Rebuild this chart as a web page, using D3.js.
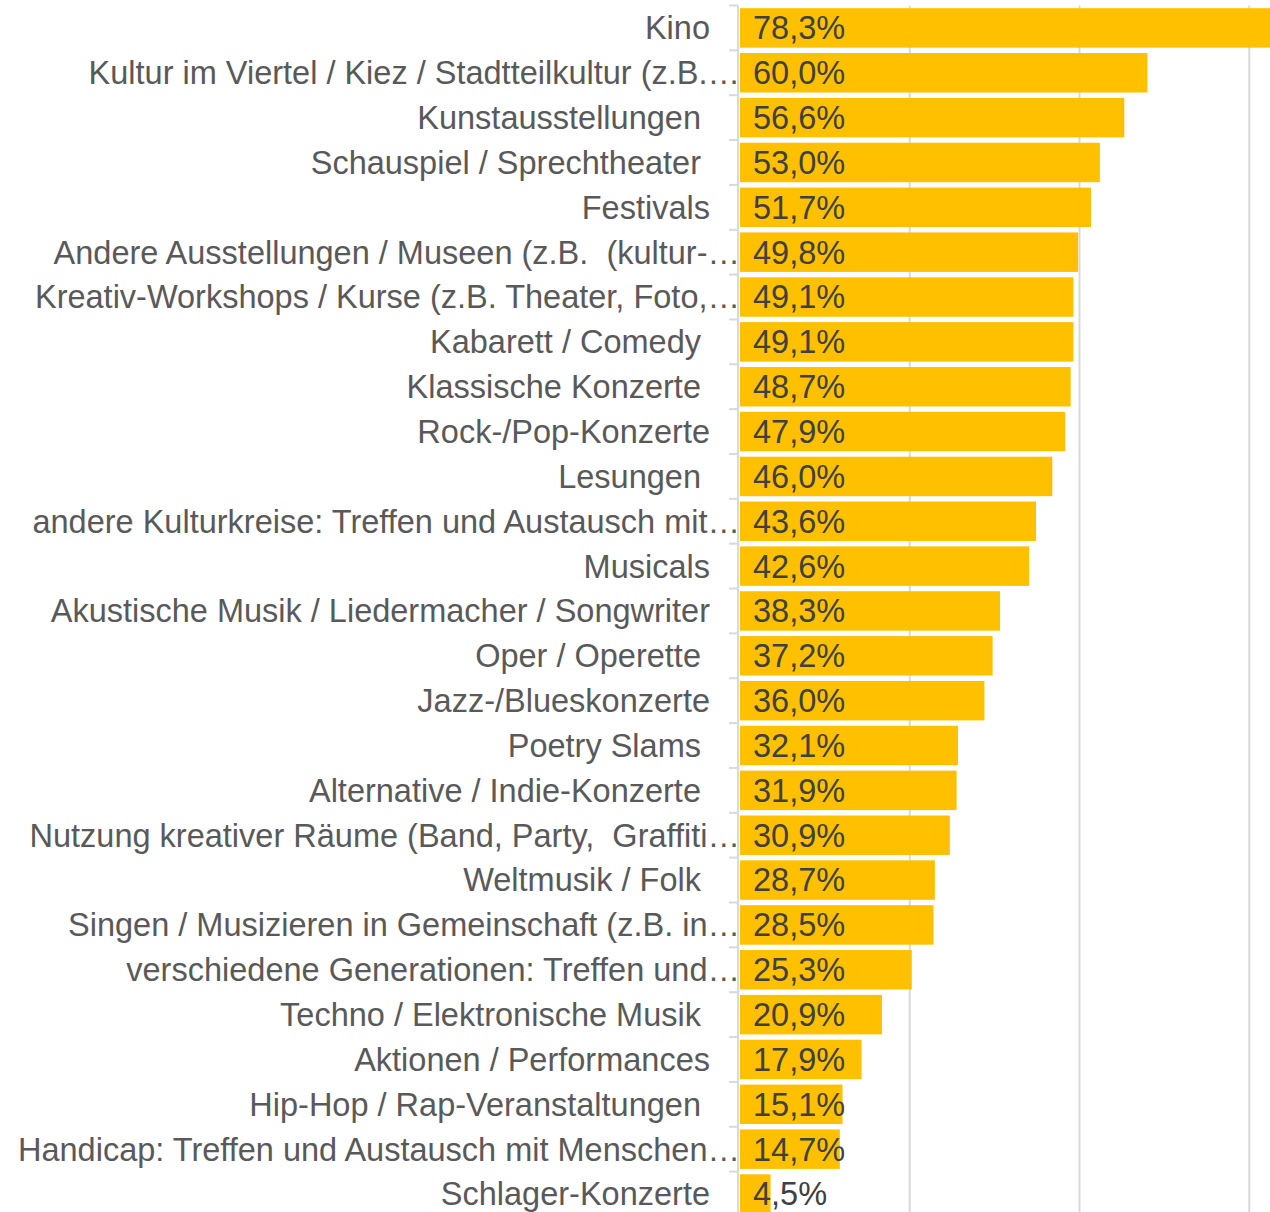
<!doctype html>
<html lang="de">
<head>
	<meta charset="UTF-8">
	<title>Kulturangebote – Interesse</title>
	<style>
		body {
			margin: 0;
			background: #fff;
		}

		svg text {
			font-family: "Liberation Sans", Arial, sans-serif;
			font-size: 32.5px;
			white-space: pre;
		}

		.cat__label {
			fill: #595959;
			text-anchor: end;
		}

		.bar__label {
			fill: #404040;
		}
	</style>
</head>
<body>
	<script src="https://cdn.jsdelivr.net/npm/d3@7/dist/d3.min.js"></script>
	<script>
		// labels as shown in the chart (trailing blanks and cut-off text kept)
		var categories = [
			'Kino',
			'Kultur im Viertel / Kiez / Stadtteilkultur (z.B.…',
			'Kunstausstellungen ',
			'Schauspiel / Sprechtheater ',
			'Festivals',
			'Andere Ausstellungen / Museen (z.B.  (kultur-…',
			'Kreativ-Workshops / Kurse (z.B. Theater, Foto,…',
			'Kabarett / Comedy ',
			'Klassische Konzerte ',
			'Rock-/Pop-Konzerte',
			'Lesungen ',
			'andere Kulturkreise: Treffen und Austausch mit…',
			'Musicals',
			'Akustische Musik / Liedermacher / Songwriter',
			'Oper / Operette ',
			'Jazz-/Blueskonzerte',
			'Poetry Slams ',
			'Alternative / Indie-Konzerte ',
			'Nutzung kreativer Räume (Band, Party,  Graffiti…',
			'Weltmusik / Folk ',
			'Singen / Musizieren in Gemeinschaft (z.B. in…',
			'verschiedene Generationen: Treffen und…',
			'Techno / Elektronische Musik ',
			'Aktionen / Performances',
			'Hip-Hop / Rap-Veranstaltungen ',
			'Handicap: Treffen und Austausch mit Menschen…',
			'Schlager-Konzerte'
		];

		var values = [78.3, 60.0, 56.6, 53.0, 51.7, 49.8, 49.1, 49.1, 48.7, 47.9,
			46.0, 43.6, 42.6, 38.3, 37.2, 36.0, 32.1, 31.9, 30.9, 28.7,
			28.5, 25.3, 20.9, 17.9, 15.1, 14.7, 4.5];

		var gridTicks = [25, 50, 75, 100];

		var w = 1270,
			h = 1212;

		var svg = d3.select('body')
			.append('svg')
			.attr('width', w)
			.attr('height', h);

		var xScale = d3.scaleLinear()
			.domain([0, 100])
			.range([740, 1419]);

		var yScale = d3.scaleBand()
			.domain(d3.range(categories.length))
			.range([5.5, 5.5 + 44.85 * categories.length])
			.paddingInner(0.12)
			.paddingOuter(0.06);

		var fmt = function(d) {
			return d.toFixed(1).replace('.', ',') + '%';
		};

		// vertical gridlines
		svg.append('g')
			.selectAll('line')
			.data(gridTicks)
			.enter()
			.append('line')
			.attr('x1', function(d) { return xScale(d); })
			.attr('x2', function(d) { return xScale(d); })
			.attr('y1', yScale.range()[0])
			.attr('y2', yScale.range()[1])
			.attr('stroke', '#d9d9d9')
			.attr('stroke-width', 2);

		// category axis with ticks between bands
		var axisX = xScale(0) - 2;
		var boundaries = d3.range(categories.length + 1).map(function(i) {
			return yScale.range()[0] + i * yScale.step();
		});

		var axisG = svg.append('g');
		axisG.append('line')
			.attr('x1', axisX)
			.attr('x2', axisX)
			.attr('y1', yScale.range()[0])
			.attr('y2', yScale.range()[1])
			.attr('stroke', '#d9d9d9')
			.attr('stroke-width', 2);

		axisG.selectAll('.tick')
			.data(boundaries)
			.enter()
			.append('line')
			.attr('class', 'tick')
			.attr('x1', axisX - 9)
			.attr('x2', axisX)
			.attr('y1', function(d) { return d; })
			.attr('y2', function(d) { return d; })
			.attr('stroke', '#d9d9d9')
			.attr('stroke-width', 2);

		// bars
		svg.append('g')
			.selectAll('rect')
			.data(values)
			.enter()
			.append('rect')
			.attr('x', xScale(0))
			.attr('y', function(d, i) { return yScale(i); })
			.attr('width', function(d) { return xScale(d) - xScale(0); })
			.attr('height', yScale.bandwidth())
			.attr('fill', '#ffc000');

		// category labels
		svg.append('g')
			.selectAll('text')
			.data(categories)
			.enter()
			.append('text')
			.attr('class', 'cat__label')
			.attr('x', function(d) {
				// cut-off labels run up to the axis
				return d.slice(-1) === '…' ? xScale(0) : xScale(0) - 30;
			})
			.attr('y', function(d, i) { return yScale(i) + yScale.bandwidth() / 2; })
			.attr('dy', '0.35em')
			.text(function(d) { return d; });

		// value labels
		svg.append('g')
			.selectAll('text')
			.data(values)
			.enter()
			.append('text')
			.attr('class', 'bar__label')
			.attr('x', xScale(0) + 13)
			.attr('y', function(d, i) { return yScale(i) + yScale.bandwidth() / 2; })
			.attr('dy', '0.35em')
			.text(fmt);
	</script>
</body>
</html>
